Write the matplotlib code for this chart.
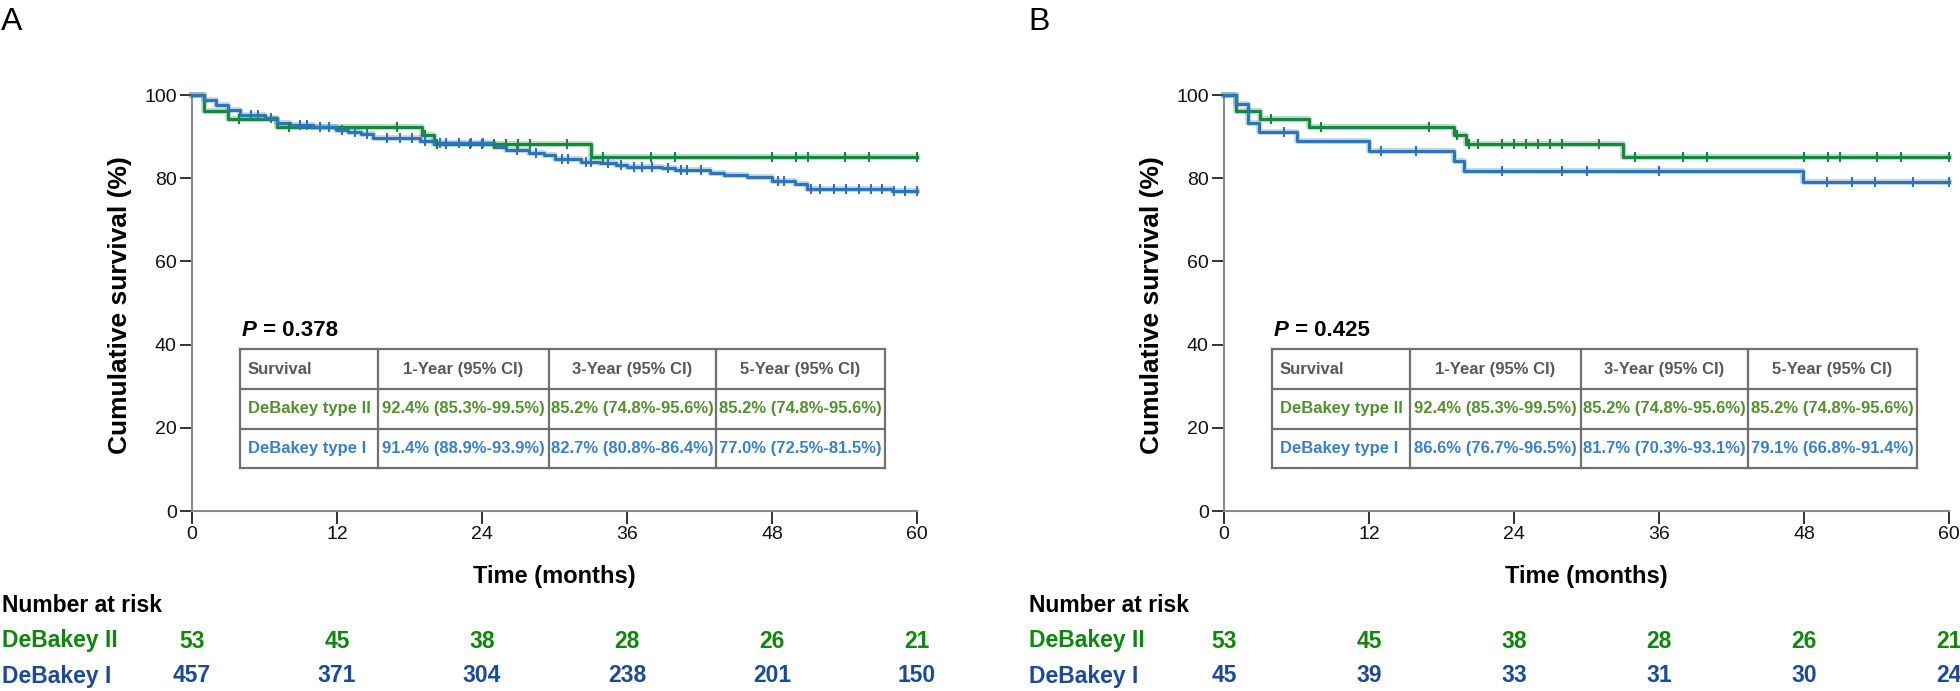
import matplotlib
matplotlib.use('Agg')
import matplotlib.pyplot as plt
import numpy as np
from matplotlib.transforms import blended_transform_factory
from matplotlib.lines import Line2D
import matplotlib.patheffects as pe

plt.rcParams['font.family'] = ['Liberation Sans', 'DejaVu Sans']

# ---------------- data ----------------
time_ticks = [0, 12, 24, 36, 48, 60]
y_ticks = [0, 20, 40, 60, 80, 100]

# DeBakey type II (same group in both panels)
green_t = [0, 1.0, 3.0, 7.0, 19.0, 20.0, 33.0]
green_s = [100, 96.2, 94.3, 92.4, 90.4, 88.3, 85.2]
green_cens = [3.9, 8.0, 17.0, 19.3, 20.3, 21.0, 23.0, 24.0, 25.0, 26.0, 27.0, 28.0,
              31.0, 34.0, 38.0, 40.0, 48.0, 50.0, 51.0, 54.0, 56.0, 60.0]

# Panel A, DeBakey type I
blueA_t = [0, 1.0, 2.0, 3.0, 4.0, 6.0, 7.0, 8.1, 10.0, 11.9, 12.9, 14.0, 15.0, 18.9,
           20.0, 25.0, 26.0, 27.9, 29.1, 30.0, 32.2, 33.8, 35.1, 36.0, 38.9, 40.0,
           42.9, 44.0, 45.9, 48.0, 49.9, 50.9, 57.9]
blueA_s = [100, 98.9, 97.6, 96.5, 95.2, 94.4, 93.3, 92.8, 92.4, 91.6, 91.0, 90.6, 89.6,
           89.0, 88.5, 87.6, 86.8, 86.1, 85.6, 84.5, 84.0, 83.6, 83.2, 82.8, 82.5,
           82.0, 81.3, 80.8, 80.4, 79.4, 78.6, 77.5, 77.0]
blueA_cens = [4.9, 5.5, 6.5, 8.9, 9.5, 10.6, 11.3, 12.4, 13.5, 14.5, 16.1, 17.2, 18.2,
              19.3, 20.5, 21.0, 22.1, 23.1, 24.1, 26.9, 28.5, 30.6, 31.1, 32.6, 33.0,
              34.4, 35.5, 36.6, 37.2, 38.1, 39.4, 40.5, 41.0, 42.1, 48.5, 49.0, 51.2,
              52.0, 53.1, 54.1, 55.2, 56.2, 57.1, 58.1, 59.0, 60.0]

# Panel B, DeBakey type I
blueB_t = [0, 1.0, 2.0, 2.9, 6.0, 12.0, 19.0, 19.9, 47.9]
blueB_s = [100, 97.8, 93.3, 91.1, 88.9, 86.6, 84.1, 81.7, 79.1]
blueB_cens = [5.0, 13.0, 15.9, 23.0, 28.0, 30.0, 36.0, 49.9, 52.0, 53.9, 57.0, 60.0]

# Number at risk
risk_A_II = [53, 45, 38, 28, 26, 21]
risk_A_I = [457, 371, 304, 238, 201, 150]
risk_B_II = [53, 45, 38, 28, 26, 21]
risk_B_I = [45, 39, 33, 31, 30, 24]

p_A = "0.378"
p_B = "0.425"
table_header = ["Survival", "1-Year (95% CI)", "3-Year (95% CI)", "5-Year (95% CI)"]
table_A = [["DeBakey type II", "92.4% (85.3%-99.5%)", "85.2% (74.8%-95.6%)", "85.2% (74.8%-95.6%)"],
           ["DeBakey type I", "91.4% (88.9%-93.9%)", "82.7% (80.8%-86.4%)", "77.0% (72.5%-81.5%)"]]
table_B = [["DeBakey type II", "92.4% (85.3%-99.5%)", "85.2% (74.8%-95.6%)", "85.2% (74.8%-95.6%)"],
           ["DeBakey type I", "86.6% (76.7%-96.5%)", "81.7% (70.3%-93.1%)", "79.1% (66.8%-91.4%)"]]

# ---------------- styling ----------------
GREEN = "#16883c"
BLUE = "#2e75b6"
T_GREEN = "#53902f"
T_BLUE = "#3a80c9"
T_GRAY = "#595959"
R_GREEN = "#0f870f"
R_BLUE = "#1d4a98"

W, H = 1960, 691
fig = plt.figure(figsize=(W / 100, H / 100), dpi=100)
fig.patch.set_facecolor('white')


def fx(px):
    return px / W


def fy(py):
    return 1 - py / H


def step_val(t, s, x):
    i = np.searchsorted(np.asarray(t), x, side='right') - 1
    return np.asarray(s)[i]


def draw_curve(ax, t, s, cens, color):
    tt = list(t) + [60]
    ss = list(s) + [s[-1]]
    ax.step(tt, ss, where='post', color=color, lw=2.2, clip_on=False, zorder=3,
            path_effects=[pe.Stroke(linewidth=4.2, foreground=color, alpha=0.3), pe.Normal()])
    cy = [step_val(t, s, c) for c in cens]
    ax.plot(cens, cy, ls='none', marker='|', ms=7, mew=1.5, color=color,
            clip_on=False, zorder=4)


def style_ax(ax):
    ax.set_xlim(0, 60)
    ax.set_ylim(0, 100)
    ax.set_xticks(time_ticks)
    ax.set_yticks(y_ticks)
    for sp in ['top', 'right']:
        ax.spines[sp].set_visible(False)
    for sp in ['left', 'bottom']:
        ax.spines[sp].set_color('#8a8a8a')
        ax.spines[sp].set_linewidth(1.5)
    ax.tick_params(direction='out', length=9, width=1.4, color='#333333',
                   labelsize=14, pad=2, labelcolor='#111111')
    ax.set_facecolor('none')


def panel(x0, letter, blue_t, blue_s, blue_cens, pval, table, risk_II, risk_I, label_x):
    ax = fig.add_axes([fx(x0), fy(511), fx(x0 + 725) - fx(x0), fy(95) - fy(511)])
    style_ax(ax)
    draw_curve(ax, green_t, green_s, green_cens, GREEN)
    draw_curve(ax, blue_t, blue_s, blue_cens, BLUE)

    # panel letter
    fig.text(fx(label_x), fy(30), letter, fontsize=23, ha='left', va='baseline', color='black')
    # y label
    fig.text(fx(x0 - 72), fy(305), "Cumulative survival (%)", rotation=90, ha='center',
             va='center', fontsize=19, fontweight='bold', color='black')
    # x label
    fig.text(fx(x0 + 362.5), fy(576), "Time (months)", ha='center', va='center',
             fontsize=17, fontweight='bold', color='black')

    # P value
    dx = x0 - 192
    tp = fig.text(fx(242 + dx), fy(336), "P", fontsize=16, fontweight='bold',
                  fontstyle='italic', ha='left', va='baseline', color='black')
    fig.text(0, 0, " = " + pval, fontsize=16, fontweight='bold', ha='left', va='baseline',
             color='black', transform=matplotlib.transforms.offset_copy(
                 fig.transFigure, fig=fig, x=0, y=0))
    # reposition second part relative to P
    fig.texts[-1].remove()
    ax.annotate(" = " + pval, xy=(1, 0), xycoords=tp, ha='left', va='bottom',
                fontsize=16, fontweight='bold', color='black',
                annotation_clip=False)

    # table
    xs = [240 + dx, 378 + dx, 549 + dx, 716 + dx, 885 + dx]
    ys = [349, 389, 429, 468]
    lc = '#707070'
    for x in xs:
        fig.add_artist(Line2D([fx(x), fx(x)], [fy(ys[0]), fy(ys[-1])], transform=fig.transFigure,
                              color=lc, lw=1.6, solid_capstyle='projecting'))
    for y in ys:
        fig.add_artist(Line2D([fx(xs[0]), fx(xs[-1])], [fy(y), fy(y)], transform=fig.transFigure,
                              color=lc, lw=1.6, solid_capstyle='projecting'))
    rows = [table_header] + table
    colors = [T_GRAY, T_GREEN, T_BLUE]
    for r, row in enumerate(rows):
        cy = (ys[r] + ys[r + 1]) / 2
        for c, txt in enumerate(row):
            if c == 0:
                fig.text(fx(xs[0] + 8), fy(cy), txt, ha='left', va='center', fontsize=12,
                         fontweight='bold', color=colors[r])
            else:
                fig.text(fx((xs[c] + xs[c + 1]) / 2), fy(cy), txt, ha='center', va='center',
                         fontsize=12, fontweight='bold', color=colors[r])

    # number at risk
    fig.text(fx(label_x + 1), fy(605), "Number at risk", ha='left', va='center',
             fontsize=16.5, fontweight='bold', color='black')
    fig.text(fx(label_x + 1), fy(641), "DeBakey II", ha='left', va='center',
             fontsize=16.5, fontweight='bold', color=R_GREEN)
    fig.text(fx(label_x + 1), fy(676), "DeBakey I", ha='left', va='center',
             fontsize=16.5, fontweight='bold', color=R_BLUE)
    tr = blended_transform_factory(ax.transData, fig.transFigure)
    for t, n in zip(time_ticks, risk_II):
        ax.text(t, fy(641), str(n), transform=tr, ha='center', va='center',
                fontsize=16.5, fontweight='bold', color=R_GREEN, clip_on=False)
    for t, n in zip(time_ticks, risk_I):
        ax.text(t, fy(676), str(n), transform=tr, ha='center', va='center',
                fontsize=16.5, fontweight='bold', color=R_BLUE, clip_on=False)
    return ax


panel(192, "A", blueA_t, blueA_s, blueA_cens, p_A, table_A, risk_A_II, risk_A_I, 1)
panel(1224, "B", blueB_t, blueB_s, blueB_cens, p_B, table_B, risk_B_II, risk_B_I, 1028)

fig.savefig("out.png", dpi=100, facecolor='white')
